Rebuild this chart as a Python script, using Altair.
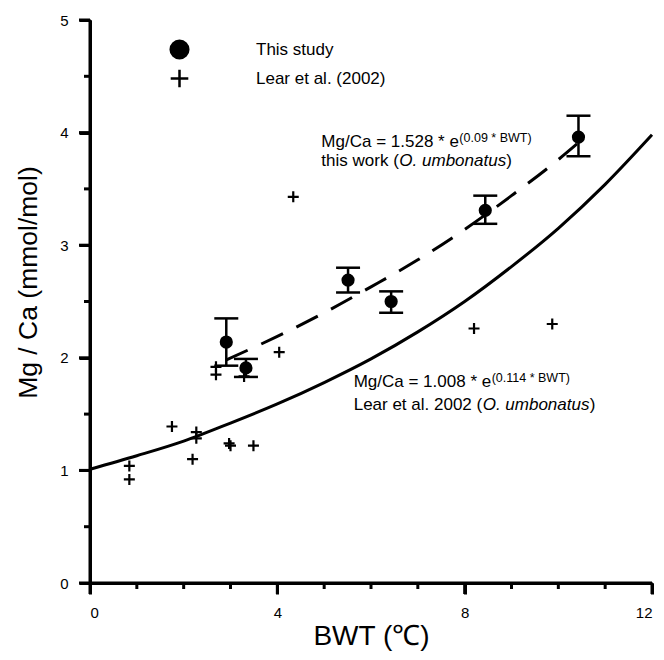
import altair as alt
import pandas as pd

FONT = "Liberation Sans"

# ---- data ----
# fitted curves
lear_fit_x = [0, 1, 2, 3, 4, 5, 6, 7, 8, 9, 10, 11, 12]
lear_fit_y = [1.01, 1.13, 1.26, 1.42, 1.59, 1.78, 1.99, 2.23, 2.50, 2.81, 3.15, 3.54, 3.98]
study_fit_x = [2.9, 4, 5, 6, 7, 8, 9, 10, 10.4]
study_fit_y = [1.98, 2.19, 2.40, 2.63, 2.87, 3.14, 3.44, 3.76, 3.90]

# this study (filled circles with error bars)
study_x = [2.91, 3.33, 5.51, 6.43, 8.44, 10.43]
study_y = [2.14, 1.91, 2.69, 2.50, 3.31, 3.96]
study_hi = [2.35, 1.99, 2.80, 2.59, 3.44, 4.15]
study_lo = [1.93, 1.83, 2.58, 2.40, 3.19, 3.79]

# Lear et al. (2002) (crosses)
lear_x = [0.84, 0.84, 1.75, 2.27, 2.27, 2.19, 2.97, 3.00, 3.49, 2.69, 2.69, 3.29, 4.04, 4.34, 8.20, 9.87]
lear_y = [1.04, 0.92, 1.39, 1.34, 1.285, 1.10, 1.24, 1.22, 1.22, 1.92, 1.85, 1.835, 2.05, 3.43, 2.26, 2.30]

series_names = ["This study", "Lear et al. (2002)"]

x_domain = [0, 12]
y_domain = [0, 5]
x_major = [0, 4, 8, 12]
x_minor = [1, 2, 3, 5, 6, 7, 9, 10, 11]
y_major = [0, 1, 2, 3, 4, 5]
y_minor = [0.5, 1.5, 2.5, 3.5, 4.5]

# ---- tables ----
lear_fit = pd.DataFrame({"bwt": lear_fit_x, "mgca": lear_fit_y})
study_fit = pd.DataFrame({"bwt": study_fit_x, "mgca": study_fit_y})
study = pd.DataFrame({"bwt": study_x, "mgca": study_y, "hi": study_hi, "lo": study_lo})
pts = pd.concat([
    pd.DataFrame({"bwt": study_x, "mgca": study_y, "source": series_names[0]}),
    pd.DataFrame({"bwt": lear_x, "mgca": lear_y, "source": series_names[1]}),
], ignore_index=True)

W, H = 562, 563
MAJOR, MINOR, LW = 11, 6, 3

xscale = alt.Scale(domain=x_domain, nice=False, zero=False)
yscale = alt.Scale(domain=y_domain, nice=False, zero=False)

x_axis = alt.Axis(values=x_major, orient="bottom", title="BWT (℃)", tickSize=MAJOR, tickWidth=LW,
                  tickColor="black", domainColor="black", domainWidth=LW, grid=True,
                  gridOpacity=0, labelFontSize=15, labelPadding=11, titleFontSize=28,
                  titleFontWeight="normal", titlePadding=2)
y_axis = alt.Axis(values=y_major, orient="left", title="Mg / Ca (mmol/mol)", tickSize=MAJOR,
                  tickWidth=LW, tickColor="black", domainColor="black", domainWidth=LW,
                  grid=True, gridOpacity=0, labelFontSize=15, labelPadding=11,
                  titleFontSize=26.5, titleFontWeight="normal", titleX=-62, titleY=262,
                  titleAlign="center", titleBaseline="middle", titleAngle=270)

def X(field):
    return alt.X(f"{field}:Q", scale=xscale, axis=x_axis)

def Y(field):
    return alt.Y(f"{field}:Q", scale=yscale, axis=y_axis)

solid = alt.Chart(lear_fit).mark_line(color="black", strokeWidth=3, interpolate="monotone").encode(
    x=X("bwt"), y=Y("mgca"))

dashed = alt.Chart(study_fit).mark_line(color="black", strokeWidth=3, strokeDash=[24, 15],
                                        interpolate="monotone").encode(x=X("bwt"), y=Y("mgca"))

# axis lines and ticks drawn as rules on the same scales
frame_x = alt.Chart(pd.DataFrame({"bwt": [x_domain[0]], "bwt2": [x_domain[1]]})).mark_rule(
    color="black", strokeWidth=LW, clip=False).encode(x=X("bwt"), x2="bwt2:Q", y=alt.value(H))
frame_y = alt.Chart(pd.DataFrame({"mgca": [y_domain[0]], "mgca2": [y_domain[1]]})).mark_rule(
    color="black", strokeWidth=LW, clip=False).encode(y=Y("mgca"), y2="mgca2:Q", x=alt.value(0))

def xticks(vals, size):
    return alt.Chart(pd.DataFrame({"bwt": vals})).mark_rule(
        color="black", strokeWidth=LW, clip=False).encode(
        x=X("bwt"), y=alt.value(H), y2=alt.value(H + size))

def yticks(vals, size):
    return alt.Chart(pd.DataFrame({"mgca": vals})).mark_rule(
        color="black", strokeWidth=LW, clip=False).encode(
        y=Y("mgca"), x=alt.value(0), x2=alt.value(-size))

err = alt.Chart(study).mark_rule(color="black", strokeWidth=2.5).encode(
    x=X("bwt"), y=Y("lo"), y2="hi:Q")
cap_hi = alt.Chart(study).mark_tick(color="black", orient="horizontal", size=24, thickness=2.5,
                                    opacity=1).encode(x=X("bwt"), y=Y("hi"))
cap_lo = alt.Chart(study).mark_tick(color="black", orient="horizontal", size=24, thickness=2.5,
                                    opacity=1).encode(x=X("bwt"), y=Y("lo"))

plus_path = "M-1,0H1M0,-1V1"
legend = alt.Legend(title=None, orient="none", legendX=79, legendY=19, symbolSize=310,
                    symbolStrokeWidth=2.5, symbolStrokeColor="black", labelFontSize=17,
                    labelFont=FONT, labelColor="black", labelOffset=66, rowPadding=0, padding=0)
points = alt.Chart(pts).mark_point(filled=True, size=121, strokeWidth=2.2, opacity=1).encode(
    x=X("bwt"), y=Y("mgca"),
    shape=alt.Shape("source:N", scale=alt.Scale(domain=series_names, range=["circle", plus_path]),
                    legend=legend),
    fill=alt.Fill("source:N", scale=alt.Scale(domain=series_names, range=["black", "transparent"]),
                  legend=legend),
    stroke=alt.Stroke("source:N", scale=alt.Scale(domain=series_names, range=["black", "black"]),
                      legend=legend),
)

# ---- annotations (anchor in data units; pieces offset in pixels) ----
ann_x = [4.94, 5.63]
ann_y1 = [3.87, 1.745]
ann_y2 = [3.705, 1.535]

def label(text, x, y, dx=0, dy=0, size=17, style="normal"):
    return alt.Chart(pd.DataFrame({"bwt": [x], "mgca": [y], "t": [text]})).mark_text(
        align="left", baseline="alphabetic", dx=dx, dy=dy, fontSize=size, fontStyle=style,
        font=FONT, color="black").encode(x=X("bwt"), y=Y("mgca"), text="t:N")

texts = [
    label("Mg/Ca = 1.528 * e", ann_x[0], ann_y1[0]),
    label("(0.09 * BWT)", ann_x[0], ann_y1[0], dx=138, dy=-5, size=12.5),
    label("this work (", ann_x[0], ann_y2[0]),
    label("O. umbonatus", ann_x[0], ann_y2[0], dx=78, style="italic"),
    label(")", ann_x[0], ann_y2[0], dx=185),
    label("Mg/Ca = 1.008 * e", ann_x[1], ann_y1[1]),
    label("(0.114 * BWT)", ann_x[1], ann_y1[1], dx=138, dy=-5, size=12.5),
    label("Lear et al. 2002 (", ann_x[1], ann_y2[1]),
    label("O. umbonatus", ann_x[1], ann_y2[1], dx=129, style="italic"),
    label(")", ann_x[1], ann_y2[1], dx=236),
]

chart = alt.layer(
    solid, dashed, frame_x, frame_y,
    xticks(x_major, MAJOR), xticks(x_minor, MINOR), yticks(y_major, MAJOR), yticks(y_minor, MINOR),
    err, cap_hi, cap_lo, points, *texts
).properties(
    width=W, height=H,
    autosize=alt.AutoSizeParams(type="none"),
    padding={"left": 82, "top": 12, "right": 4, "bottom": 69},
).configure(
    background="white",
    font=FONT,
    view=alt.ViewConfig(stroke=None),
)

chart.save("out.html", embed_options={"renderer": "svg", "actions": False})
